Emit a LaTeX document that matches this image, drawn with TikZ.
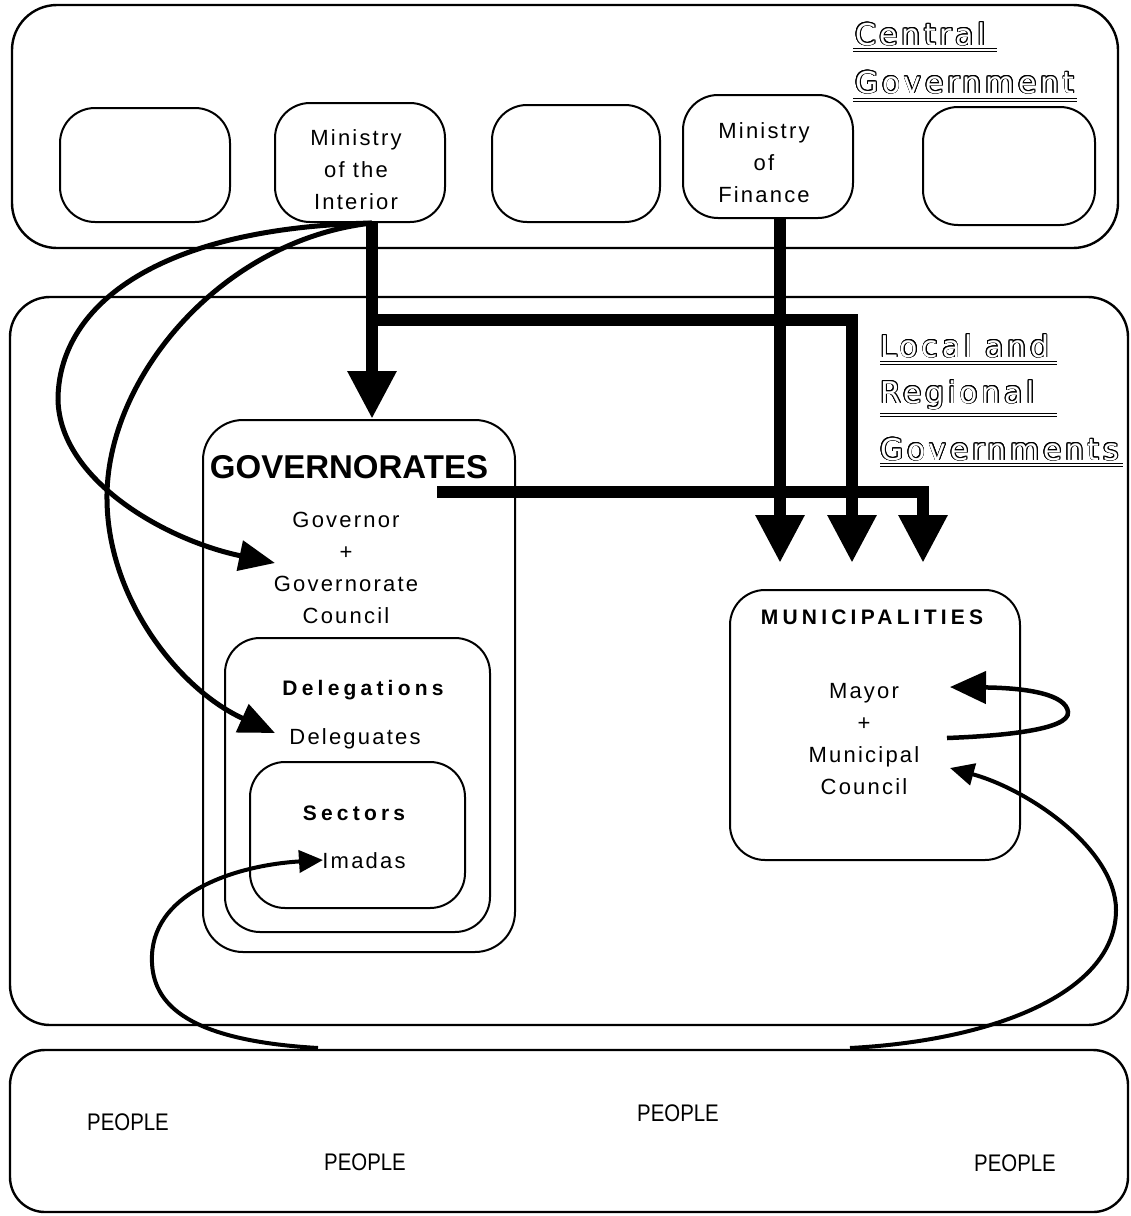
\documentclass[tikz,border=0pt]{standalone}
\usepackage{fontspec}
\setmainfont{Liberation Sans}
\newfontfamily\regf{Liberation Sans}[LetterSpace=10]
\newfontfamily\bsp{Liberation Sans}[LetterSpace=20]
\newfontfamily\govf{Liberation Sans}
\newfontfamily\titlef{DejaVu Sans}[LetterSpace=12]
\newfontfamily\peoplef{Liberation Sans}[FakeStretch=0.85]
\usepackage[copies]{contour}
\contourlength{0.9pt}
\usetikzlibrary{arrows.meta}
\begin{document}
\begin{tikzpicture}[x=1pt,y=-1pt,
  rbox/.style={draw, rectangle, line width=2pt, inner sep=0pt},
  bigarrow/.style={line width=12pt, -{Triangle[length=48pt,width=46pt]}},
  curvearrow/.style={line width=5pt, -{Triangle[length=36pt,width=30pt]}},
  smallarrow/.style={line width=4pt, -{Triangle[length=24pt,width=22pt]}},
  reg/.style={font=\regf\fontsize{22}{32}\selectfont, align=center, inner sep=0pt},
  boldlbl/.style={font=\bsp\bfseries\fontsize{21}{24}\selectfont, inner sep=0pt},
  ttl/.style={font=\titlef\fontsize{30}{36}\selectfont, text=white, anchor=base west, inner sep=0pt},
  uline/.style={line width=1.1pt, double, double distance=1.6pt},
  pplt/.style={font=\peoplef\fontsize{24}{28}\selectfont, inner sep=0pt},
]
\useasboundingbox (0,0) rectangle (1131,1216);

% ---- Central government
\node[rbox, line width=2.4pt, rounded corners=45pt, minimum width=1106pt, minimum height=243pt] (central) at (565,126.5) {};
\node[rbox, rounded corners=35pt, minimum width=170pt, minimum height=114pt] (box1) at (145,165) {};
\node[rbox, rounded corners=35pt, minimum width=170pt, minimum height=119pt] (interior) at (360,162.5) {};
\node[rbox, rounded corners=35pt, minimum width=168pt, minimum height=117pt] (box3) at (576,163.5) {};
\node[rbox, rounded corners=35pt, minimum width=170pt, minimum height=123pt] (finance) at (768,156.5) {};
\node[rbox, rounded corners=35pt, minimum width=172pt, minimum height=118pt] (box5) at (1009,166) {};
\node[reg] (intt) at (356,170) {Ministry\\of the\\Interior};
\node[reg] (fint) at (764,163) {Ministry\\of\\Finance};

\node[ttl] (ct1) at (855,45) {\contour{black}{Central}};
\node[ttl] (ct2) at (855,93) {\contour{black}{Government}};
\draw[uline] (853,50) -- (997,50);
\draw[uline] (853,100) -- (1077,100);

% ---- Local and regional governments
\node[rbox, line width=2.4pt, rounded corners=40pt, minimum width=1118pt, minimum height=728pt] (local) at (569,661) {};
\node[ttl] (lt1) at (880,357) {\contour{black}{Local and}};
\node[ttl] (lt2) at (880,403) {\contour{black}{Regional}};
\node[ttl] (lt3) at (880,460) {\contour{black}{Governments}};
\draw[uline] (880,363) -- (1057,363);
\draw[uline] (880,415) -- (1057,415);
\draw[uline] (880,465) -- (1123,465);

\node[rbox, rounded corners=40pt, minimum width=312pt, minimum height=532pt] (gov) at (359,686) {};
\node[rbox, rounded corners=35pt, minimum width=265pt, minimum height=294pt] (del) at (357.5,785) {};
\node[rbox, rounded corners=35pt, minimum width=215pt, minimum height=146pt] (sec) at (357.5,835) {};
\node[rbox, rounded corners=35pt, minimum width=290pt, minimum height=270pt] (muni) at (875,725) {};

\node[font=\govf\bfseries\fontsize{33}{36}\selectfont, inner sep=0pt] (govt) at (349,467) {GOVERNORATES};
\node[reg] (governor) at (346,567.5) {Governor\\+\\Governorate\\Council};
\node[boldlbl] (delt) at (363,690) {Delegations};
\node[reg] (delegates) at (355,739) {Deleguates};
\node[boldlbl] (sect) at (354,813) {Sectors};
\node[reg] (imadas) at (364,861) {Imadas};
\node[boldlbl] (munit) at (872,617) {MUNICIPALITIES};
\node[reg] (mayor) at (864,739) {Mayor\\+\\Municipal\\Council};

% ---- People
\node[rbox, line width=2.4pt, rounded corners=35pt, minimum width=1118pt, minimum height=162pt] (people) at (569,1131) {};
\node[pplt] (p1) at (128,1122) {PEOPLE};
\node[pplt] (p2) at (678,1113) {PEOPLE};
\node[pplt] (p3) at (365,1162) {PEOPLE};
\node[pplt] (p4) at (1015,1163) {PEOPLE};

% ---- coordinates
\coordinate (split) at (372,320);
\coordinate (gstart) at (437,492);
\coordinate (tipA) at (780,563);
\coordinate (tipB) at (852,563);
\coordinate (tipC) at (923,563);
\coordinate (govin) at (275,563);
\coordinate (delin) at (275,733);
\coordinate (imin) at (323,860);
\coordinate (pstartL) at (318,1048);
\coordinate (pstartR) at (850,1048);
\coordinate (councilin) at (950,768);
\coordinate (loopstart) at (947,738);
\coordinate (mayin) at (950,687);

% ---- thick arrows
\draw[bigarrow] ([xshift=12pt]interior.south) -- ([xshift=12pt]interior.south |- gov.north);
\draw[bigarrow] (split) -| (tipB);
\draw[bigarrow] ([xshift=12pt]finance.south) -- (tipA);
\draw[bigarrow] (gstart) -| (tipC);

% ---- curved arrows
\draw[curvearrow] ([xshift=12pt]interior.south) .. controls (150,228) and (58,310) .. (58,400)
   .. controls (60,480) and (165,540) .. (govin);
\draw[curvearrow] ([xshift=12pt]interior.south) .. controls (220,240) and (105,380) .. (107,500)
   .. controls (108,600) and (180,690) .. (delin);
\draw[smallarrow] (pstartL) .. controls (180,1040) and (150,1000) .. (152,955)
   .. controls (155,890) and (240,865) .. (imin);
\draw[smallarrow] (pstartR) .. controls (1000,1040) and (1116,990) .. (1116,910)
   .. controls (1116,850) and (1030,790) .. (councilin);
\draw[line width=4.5pt, -{Triangle[length=36pt,width=32pt]}] (loopstart) .. controls (1000,736) and (1070,730) .. (1068,712)
   .. controls (1066,695) and (1030,688) .. (mayin);
\end{tikzpicture}
\end{document}
